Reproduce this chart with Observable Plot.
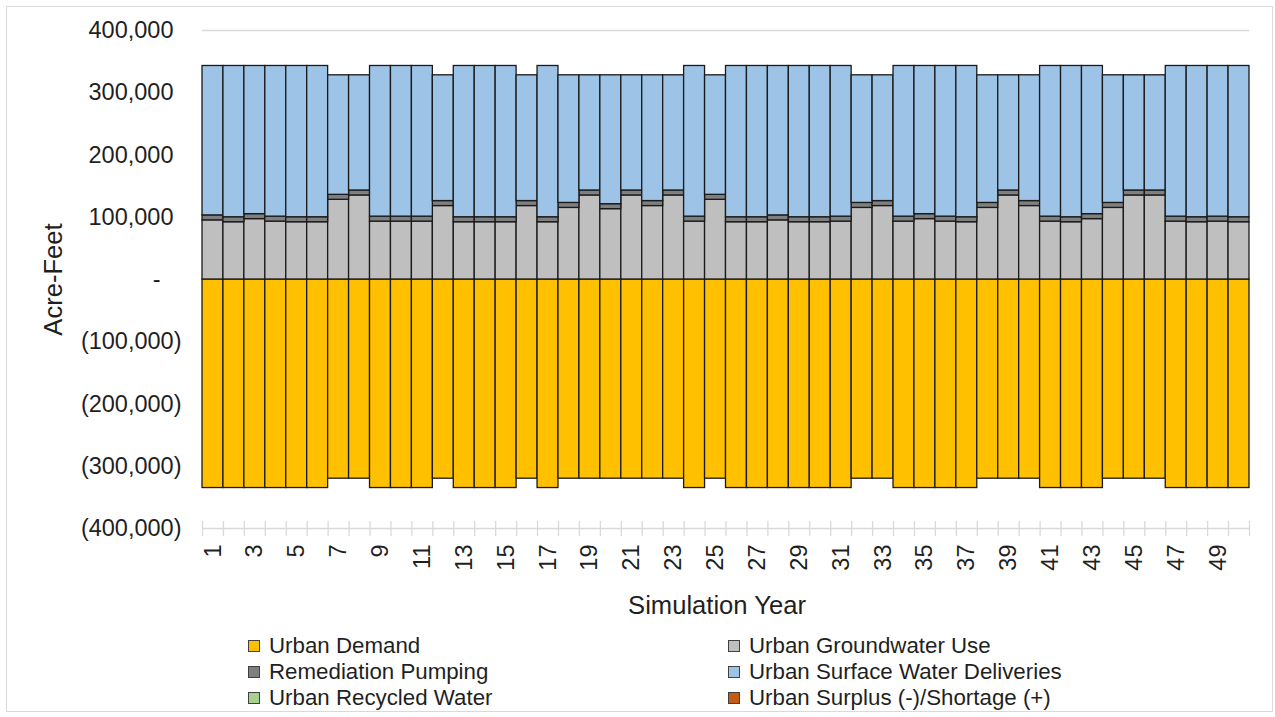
<!DOCTYPE html>
<html>
<head>
<meta charset="utf-8">
<script src="https://cdn.jsdelivr.net/npm/d3@7"></script>
<script src="https://cdn.jsdelivr.net/npm/@observablehq/plot@0.6"></script>
<style>
  body { margin: 0; background: #fff; font-family: "Liberation Sans", Arial, sans-serif; color: #1f1f1f; }
  #page { position: relative; width: 1275px; height: 717px; overflow: hidden; }
  #frame { position: absolute; left: 6px; top: 6px; width: 1265px; height: 704px; border: 1px solid #d9d9d9; pointer-events: none; }
  #legend { position: absolute; left: 0; top: 633px; display: grid; grid-template-columns: 480px 480px; padding-left: 248px; font-size: 22.3px; line-height: 26px; }
  .item { display: flex; align-items: center; white-space: nowrap; }
  .sw { width: 10px; height: 10px; border: 1px solid #404040; margin-right: 9px; flex: none; }
</style>
</head>
<body>
<div id="page">
  <div id="chart"></div>
  <div id="legend"></div>
  <div id="frame"></div>
</div>
<script>
// Simulation years
const years = [1, 2, 3, 4, 5, 6, 7, 8, 9, 10, 11, 12, 13, 14, 15, 16, 17, 18, 19, 20,
  21, 22, 23, 24, 25, 26, 27, 28, 29, 30, 31, 32, 33, 34, 35, 36, 37, 38, 39, 40,
  41, 42, 43, 44, 45, 46, 47, 48, 49, 50];

// Urban demand (shown below zero), acre-feet
const urbanDemand = [
  -335000, -335000, -335000, -335000, -335000, -335000, -320000, -320000, -335000, -335000,
  -335000, -320000, -335000, -335000, -335000, -320000, -335000, -320000, -320000, -320000,
  -320000, -320000, -320000, -335000, -320000, -335000, -335000, -335000, -335000, -335000,
  -335000, -320000, -320000, -335000, -335000, -335000, -335000, -320000, -320000, -320000,
  -335000, -335000, -335000, -320000, -320000, -320000, -335000, -335000, -335000, -335000];

// Urban groundwater use, acre-feet
const groundwater = [
  95000, 92000, 97000, 93000, 92000, 92000, 128000, 135000, 93000, 93000,
  93000, 118000, 92000, 92000, 92000, 118000, 92000, 115000, 135000, 113000,
  135000, 118000, 135000, 93000, 128000, 92000, 92000, 95000, 92000, 92000,
  93000, 115000, 118000, 93000, 97000, 93000, 92000, 115000, 135000, 118000,
  93000, 92000, 97000, 115000, 135000, 135000, 93000, 92000, 93000, 92000];

// Remediation pumping, acre-feet
const remediation = [
  8000, 8000, 8000, 8000, 8000, 8000, 8000, 8000, 8000, 8000,
  8000, 8000, 8000, 8000, 8000, 8000, 8000, 8000, 8000, 8000,
  8000, 8000, 8000, 8000, 8000, 8000, 8000, 8000, 8000, 8000,
  8000, 8000, 8000, 8000, 8000, 8000, 8000, 8000, 8000, 8000,
  8000, 8000, 8000, 8000, 8000, 8000, 8000, 8000, 8000, 8000];

// Urban recycled water, acre-feet
const recycled = [
  0, 0, 0, 0, 0, 0, 0, 0, 0, 0, 0, 0, 0, 0, 0, 0, 0, 0, 0, 0, 0, 0, 0, 0, 0,
  0, 0, 0, 0, 0, 0, 0, 0, 0, 0, 0, 0, 0, 0, 0, 0, 0, 0, 0, 0, 0, 0, 0, 0, 0];

// Urban surface water deliveries, acre-feet
const surfaceWater = [
  240000, 243000, 238000, 242000, 243000, 243000, 192000, 185000, 242000, 242000,
  242000, 202000, 243000, 243000, 243000, 202000, 243000, 205000, 185000, 207000,
  185000, 202000, 185000, 242000, 192000, 243000, 243000, 240000, 243000, 243000,
  242000, 205000, 202000, 242000, 238000, 242000, 243000, 205000, 185000, 202000,
  242000, 243000, 238000, 205000, 185000, 185000, 242000, 243000, 242000, 243000];

// Urban surplus (-) / shortage (+), acre-feet
const surplusShortage = [
  0, 0, 0, 0, 0, 0, 0, 0, 0, 0, 0, 0, 0, 0, 0, 0, 0, 0, 0, 0, 0, 0, 0, 0, 0,
  0, 0, 0, 0, 0, 0, 0, 0, 0, 0, 0, 0, 0, 0, 0, 0, 0, 0, 0, 0, 0, 0, 0, 0, 0];

// Series, in stacking order, with their fills
const seriesNames = [
  "Urban Demand",
  "Urban Groundwater Use",
  "Remediation Pumping",
  "Urban Recycled Water",
  "Urban Surface Water Deliveries",
  "Urban Surplus (-)/Shortage (+)"
];
const seriesColors = ["#FFC000", "#BFBFBF", "#7F7F7F", "#A9D18E", "#9DC3E6", "#C55A11"];
const seriesValues = [urbanDemand, groundwater, remediation, recycled, surfaceWater, surplusShortage];

// Legend reading order (two columns, row by row)
const legendOrder = [
  "Urban Demand", "Urban Groundwater Use",
  "Remediation Pumping", "Urban Surface Water Deliveries",
  "Urban Recycled Water", "Urban Surplus (-)/Shortage (+)"
];

// Value-axis ticks
const yTicks = [-400000, -300000, -200000, -100000, 0, 100000, 200000, 300000, 400000];

// Long table for the stacked bars
const rows = [];
seriesNames.forEach((name, s) => {
  years.forEach((year, i) => rows.push({year, series: name, value: seriesValues[s][i]}));
});

const W = 1275, H = 630, ML = 202, MR = 26, MT = 30, MB = 102;
const bw = (W - ML - MR) / years.length;
const fmt = d3.format(",");
const axisColor = "#d9d9d9";

const chart = Plot.plot({
  width: W,
  height: H,
  marginLeft: ML,
  marginRight: MR,
  marginTop: MT,
  marginBottom: MB,
  style: {fontFamily: "'Liberation Sans', Arial, sans-serif", fontSize: "23.5px", color: "#1f1f1f", background: "#fff", overflow: "visible"},
  x: {type: "band", domain: years, padding: 0, round: false, label: null},
  y: {domain: [-400000, 400000], label: null},
  color: {domain: seriesNames, range: seriesColors},
  marks: [
    // horizontal gridlines (the lowest one doubles as the category axis line)
    Plot.ruleY(yTicks, {y: d => d, stroke: axisColor, strokeWidth: 1.3}),
    // category tick marks between years, crossing the axis line
    Plot.ruleX(years, {x: d => d, dx: -bw / 2, y1: -400000, y2: -400000, insetTop: -7, insetBottom: -8, stroke: axisColor, strokeWidth: 1.3}),
    Plot.ruleX(years.slice(-1), {x: d => d, dx: bw / 2, y1: -400000, y2: -400000, insetTop: -7, insetBottom: -8, stroke: axisColor, strokeWidth: 1.3}),
    // stacked supply above zero, demand below
    Plot.barY(rows, {
      filter: d => d.value !== 0,
      x: "year",
      y: "value",
      fill: "series",
      order: seriesNames,
      stroke: "#1a1a1a",
      strokeWidth: 1.3
    }),
    // accounting-style value labels
    Plot.axisY({ticks: yTicks.filter(d => d > 0), tickSize: 0, tickPadding: 29, tickFormat: d => fmt(d), label: null}),
    Plot.axisY({ticks: yTicks.filter(d => d < 0), tickSize: 0, tickPadding: 21, tickFormat: d => `(${fmt(-d)})`, label: null}),
    Plot.axisY({ticks: [0], tickSize: 0, tickPadding: 42, tickFormat: () => "-", label: null}),
    Plot.axisX({ticks: years.filter(d => d % 2 === 1), tickSize: 0, tickPadding: 16, tickRotate: -90, label: null}),
    // axis titles
    Plot.text(["Acre-Feet"], {text: d => d, frameAnchor: "left", dx: -149, rotate: -90, textAnchor: "middle", lineAnchor: "middle", fontSize: 25.6}),
    Plot.text(["Simulation Year"], {text: d => d, frameAnchor: "bottom", dx: -9, dy: 77, textAnchor: "middle", lineAnchor: "middle", fontSize: 25.6})
  ]
});
document.getElementById("chart").appendChild(chart);

// Legend
const legend = d3.select("#legend");
legendOrder.forEach(name => {
  const item = legend.append("div").attr("class", "item");
  item.append("span").attr("class", "sw").style("background", seriesColors[seriesNames.indexOf(name)]);
  item.append("span").text(name);
});
</script>
</body>
</html>
